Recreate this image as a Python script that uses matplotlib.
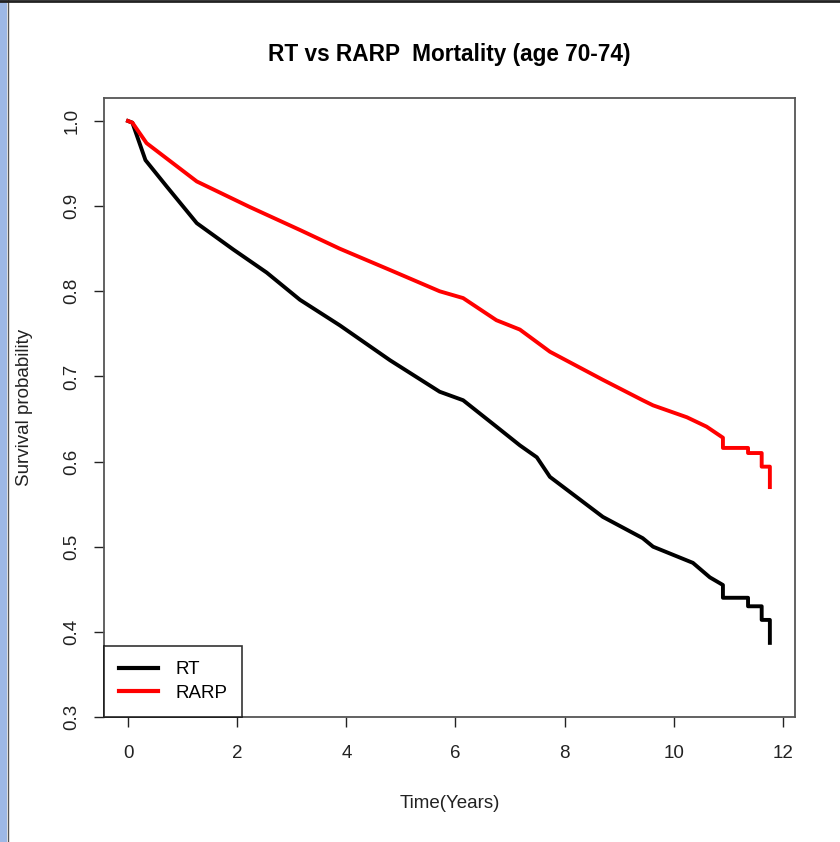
import numpy as np
import matplotlib.pyplot as plt
from matplotlib.patches import Rectangle
from matplotlib.lines import Line2D

plt.rcParams['font.family'] = ['Liberation Sans', 'DejaVu Sans']

# Kaplan-Meier curves (time in years, survival)
rt_time = [0, 0.08, 0.32, 0.71, 1.26, 1.93, 2.54, 3.15, 3.88, 4.80, 5.71, 6.14,
           6.75, 7.18, 7.49, 7.73, 8.70, 9.43, 9.62, 10.35, 10.66, 10.9, 10.9,
           11.36, 11.36, 11.61, 11.61, 11.76, 11.76]
rt_surv = [1.0, 0.998, 0.954, 0.923, 0.880, 0.849, 0.822, 0.790, 0.760, 0.719,
           0.682, 0.672, 0.641, 0.619, 0.605, 0.582, 0.535, 0.510, 0.500, 0.481,
           0.464, 0.455, 0.440, 0.440, 0.430, 0.430, 0.414, 0.414, 0.387]

rarp_time = [0, 0.08, 0.34, 1.26, 2.23, 3.15, 3.88, 4.80, 5.71, 6.14, 6.75, 7.18,
             7.73, 8.70, 9.43, 9.62, 10.24, 10.6, 10.9, 10.9, 11.36, 11.36,
             11.61, 11.61, 11.76, 11.76]
rarp_surv = [1.0, 0.998, 0.974, 0.929, 0.899, 0.872, 0.850, 0.825, 0.800, 0.792,
             0.766, 0.755, 0.729, 0.696, 0.672, 0.666, 0.652, 0.641, 0.628, 0.616,
             0.616, 0.610, 0.610, 0.594, 0.594, 0.570]

x_ticks = [0, 2, 4, 6, 8, 10, 12]
y_ticks = [0.3, 0.4, 0.5, 0.6, 0.7, 0.8, 0.9, 1.0]

fig = plt.figure(figsize=(8.4, 8.42), dpi=100)
ax = fig.add_axes([0.1238, 0.1485, 0.8226, 0.7351])

ax.plot(rt_time, rt_surv, color='black', linewidth=2.8, label='RT')
ax.plot(rarp_time, rarp_surv, color='red', linewidth=2.8, label='RARP')

ax.set_xlim(-0.44, 12.22)
ax.set_ylim(0.3, 1.027)
ax.set_xticks(x_ticks)
ax.set_yticks(y_ticks)
ax.set_xticklabels([str(v) for v in x_ticks])
ax.set_yticklabels([f'{v:.1f}' for v in y_ticks], rotation=90, va='center')
ax.tick_params(direction='out', length=7, width=1, labelsize=13.5,
               colors='#222222')
ax.tick_params(axis='x', pad=13)
ax.tick_params(axis='y', pad=10)
for s in ax.spines.values():
    s.set_color('#555555')
    s.set_linewidth(1.3)

ax.set_title('RT vs RARP  Mortality (age 70-74)', fontsize=16.3,
             fontweight='bold', pad=27)
ax.set_xlabel('Time(Years)', fontsize=13.5, labelpad=24, color='#222222')
ax.set_ylabel('Survival probability', fontsize=13.5, labelpad=22, color='#222222')

leg = ax.legend(loc='lower left', borderaxespad=0, fancybox=False,
                edgecolor='black', fontsize=13.5, handlelength=2.1,
                handletextpad=0.9, borderpad=0.8, labelspacing=0.35)
leg.get_frame().set_linewidth(1.2)
for h in leg.get_lines():
    h.set_linewidth(3)

# screenshot border: blue strip at left, dark line along the top
fig.patches.append(Rectangle((0, 0), 7 / 840, 1, transform=fig.transFigure,
                             facecolor='#9db8e6', edgecolor='none'))
fig.lines.append(Line2D([7.5 / 840, 7.5 / 840], [0, 1], transform=fig.transFigure,
                        color='#555555', linewidth=1))
fig.lines.append(Line2D([0, 1], [0.999, 0.999], transform=fig.transFigure,
                        color='#222222', linewidth=2))

fig.savefig('out.png', dpi=100)
